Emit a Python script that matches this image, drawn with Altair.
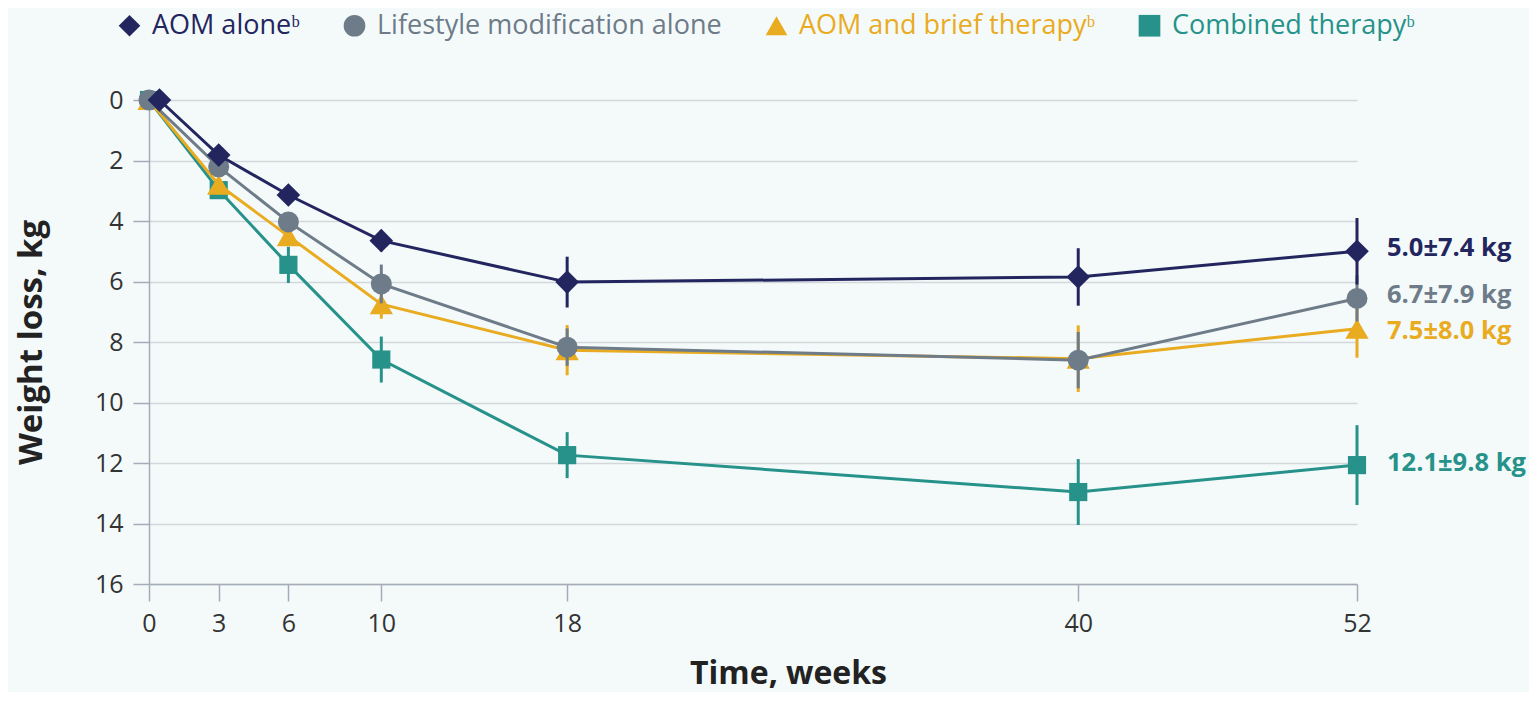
import altair as alt
import pandas as pd

# ---------------- data ----------------
series = ["AOM aloneᵇ", "Lifestyle modification alone", "AOM and brief therapyᵇ", "Combined therapyᵇ"]
colors = ["#23255f", "#6e7b88", "#e9ab1f", "#26928a"]
shapes = ["diamond", "circle", "triangle-up", "square"]
marker_sizes = [560, 441, 540, 330]

weeks_aom = [0.45, 3, 6, 10, 18, 40, 52]
weeks = [0, 3, 6, 10, 18, 40, 52]

aom_mean = [0, 1.82, 3.14, 4.65, 6.02, 5.85, 5.0]
aom_err = [0, 0.2, 0.3, 0.35, 0.84, 0.95, 1.1]
life_mean = [0, 2.21, 4.03, 6.08, 8.17, 8.6, 6.56]
life_err = [0, 0.2, 0.3, 0.64, 0.62, 0.93, 0.76]
brief_mean = [0, 2.8, 4.5, 6.75, 8.27, 8.55, 7.56]
brief_err = [0, 0.2, 0.3, 0.48, 0.83, 1.1, 0.96]
comb_mean = [0, 2.98, 5.45, 8.58, 11.74, 12.96, 12.07]
comb_err = [0, 0.2, 0.6, 0.76, 0.76, 1.09, 1.32]

end_labels = ["5.0±7.4 kg", "6.7±7.9 kg", "7.5±8.0 kg", "12.1±9.8 kg"]
end_label_y = [4.88, 6.44, 7.64, 12.0]

x_ticks = [0, 3, 6, 10, 18, 40, 52]
y_ticks = [0, 2, 4, 6, 8, 10, 12, 14, 16]

# ---------------- tables ----------------
all_x = [weeks_aom, weeks, weeks, weeks]
all_mean = [aom_mean, life_mean, brief_mean, comb_mean]
all_err = [aom_err, life_err, brief_err, comb_err]

rows = []
for s, xs, ms, es in zip(series, all_x, all_mean, all_err):
    for w, m, e in zip(xs, ms, es):
        rows.append({"series": s, "week": w, "mean": m, "lo": m - e, "hi": m + e})
df = pd.DataFrame(rows)

lab_df = pd.DataFrame({
    "series": series,
    "week": [weeks[-1]] * 4,
    "ly": end_label_y,
    "text": end_labels,
})

FONT = "Open Sans"
AX = "#a3adb9"

X = alt.X("week:Q", scale=alt.Scale(domain=[0, 52], nice=False, zero=False),
          axis=alt.Axis(values=x_ticks, grid=False, tickSize=17, tickWidth=1.5, tickColor=AX,
                        domainColor=AX, domainWidth=1.5, labelFontSize=25, labelColor="#333333",
                        labelFont=FONT, labelPadding=10, labelFlush=False,
                        title="Time, weeks", titleFont=FONT, titleFontSize=32,
                        titleFontWeight="bold", titleColor="#222222",
                        titleX=639, titleY=99, titleBaseline="alphabetic", titleAlign="center"))
YSCALE = alt.Scale(domain=[0, 16], reverse=True, nice=False, zero=False)
YAXIS = alt.Axis(values=y_ticks, grid=True, gridColor="#d3d7dc", gridWidth=1.5,
                 tickSize=16, tickWidth=1.5, tickColor=AX, domainColor=AX, domainWidth=1.5,
                 labelFontSize=25, labelColor="#333333", labelFont=FONT, labelPadding=10,
                 title="Weight loss, kg", titleFont=FONT, titleFontSize=33,
                 titleFontWeight="bold", titleColor="#222222", titlePadding=46)

color_expr = " : ".join(
    f"datum.value == '{s}' ? '{c}'" for s, c in zip(series[:-1], colors[:-1])
) + f" : '{colors[-1]}'"

legend = alt.Legend(orient="none", legendX=-33, legendY=-88, direction="horizontal",
                    title=None, labelFontSize=27, labelFont=FONT, columnPadding=41,
                    labelOffset=9, labelLimit=600, symbolSize=470, symbolStrokeWidth=0,
                    padding=0, labelColor={"expr": color_expr})

C = alt.Color("series:N", scale=alt.Scale(domain=series, range=colors), legend=legend)
S = alt.Shape("series:N", scale=alt.Scale(domain=series, range=shapes), legend=legend)

layers = []
for i in [3, 2, 1, 0]:
    s = series[i]
    base = alt.Chart(df).transform_filter(alt.datum.series == s)
    layers.append(base.mark_line(strokeWidth=3, color=colors[i]).encode(
        x=X, y=alt.Y("mean:Q", scale=YSCALE, axis=YAXIS)))
    layers.append(base.mark_rule(strokeWidth=3, color=colors[i]).encode(
        x=X, y=alt.Y("lo:Q", scale=YSCALE, axis=YAXIS), y2="hi:Q"))
    layers.append(base.mark_point(filled=True, opacity=1, size=marker_sizes[i]).encode(
        x=X, y=alt.Y("mean:Q", scale=YSCALE, axis=YAXIS), color=C, shape=S))

for i in range(4):
    layers.append(alt.Chart(lab_df).transform_filter(alt.datum.series == series[i]).mark_text(
        align="left", baseline="middle", dx=30, fontSize=25.5, fontWeight="bold", font=FONT,
        color=colors[i]).encode(x=X, y=alt.Y("ly:Q", scale=YSCALE, axis=YAXIS), text="text:N"))

chart = alt.layer(*layers).properties(
    width=1208, height=484,
    autosize=alt.AutoSizeParams(type="none"),
    padding={"left": 141, "top": 92, "right": 172, "bottom": 108},
    background="#f4fafa",
).configure_view(stroke=None)

chart.save("out.html", embed_options={"renderer": "svg", "actions": False})
